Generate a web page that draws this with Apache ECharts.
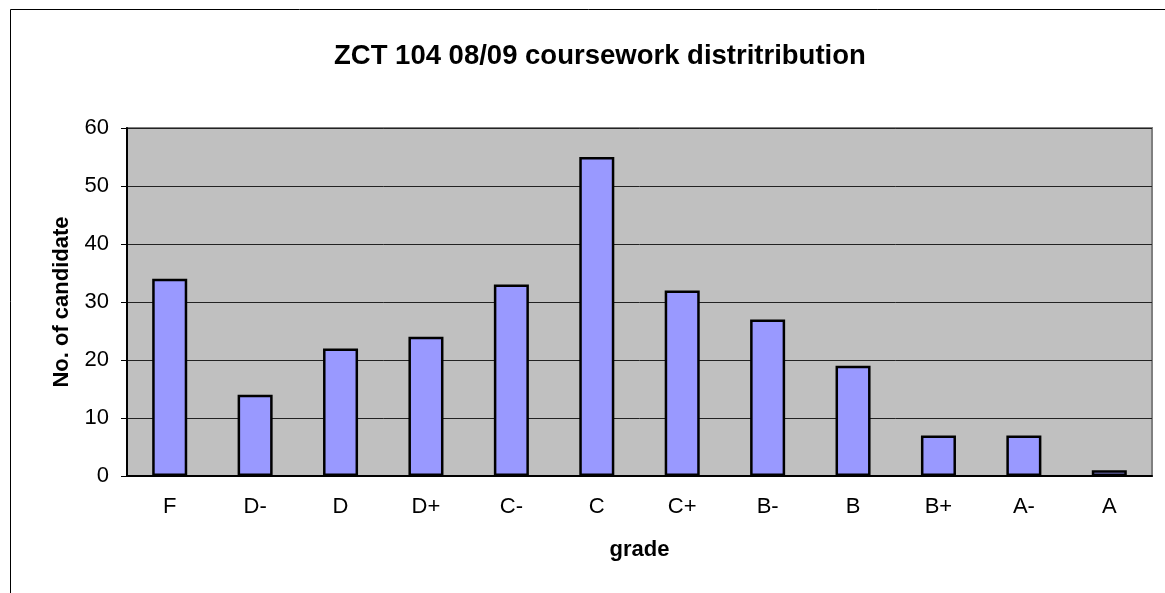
<!DOCTYPE html>
<html>
<head>
<meta charset="utf-8">
<script src="https://cdn.jsdelivr.net/npm/echarts@6/dist/echarts.min.js"></script>
<style>
  html, body { margin: 0; padding: 0; background: #fff; }
  #chart { width: 1165px; height: 593px; }
</style>
</head>
<body>
<div id="chart"></div>
<script>
// coursework grade distribution
var grades = ['F', 'D-', 'D', 'D+', 'C-', 'C', 'C+', 'B-', 'B', 'B+', 'A-', 'A']
var candidates = [34, 14, 22, 24, 33, 55, 32, 27, 19, 7, 7, 1]
var yTicks = { min: 0, max: 60, interval: 10 }

var font = '"Liberation Sans", Arial, sans-serif'
var chart = echarts.init(document.getElementById('chart'))

chart.setOption({
  animation: false,
  textStyle: { fontFamily: font },
  title: {
    text: 'ZCT 104 08/09 coursework distritribution',
    left: 329,
    top: 37,
    textStyle: { fontSize: 27.5, fontWeight: 'bold', color: '#000', fontFamily: font }
  },
  graphic: [{
    type: 'rect',
    shape: { x: 10.5, y: 9.5, width: 1200, height: 700 },
    style: { fill: 'none', stroke: '#000', lineWidth: 1 },
    z: -1
  }],
  grid: {
    left: 127,
    right: 13,
    top: 128,
    bottom: 117,
    show: true,
    backgroundColor: '#C0C0C0',
    borderColor: '#808080',
    borderWidth: 2
  },
  xAxis: {
    type: 'category',
    data: grades,
    name: 'grade',
    nameLocation: 'middle',
    nameGap: 63,
    nameTextStyle: { fontSize: 22, fontWeight: 'bold', color: '#000', fontFamily: font },
    axisLine: { lineStyle: { color: '#000', width: 2 } },
    axisTick: { length: 6, lineStyle: { color: '#000' } },
    axisLabel: { fontSize: 22, color: '#000', margin: 20, fontFamily: font }
  },
  yAxis: {
    type: 'value',
    min: yTicks.min,
    max: yTicks.max,
    interval: yTicks.interval,
    name: 'No. of candidate',
    nameLocation: 'middle',
    nameGap: 54,
    nameTextStyle: { fontSize: 22, fontWeight: 'bold', color: '#000', fontFamily: font },
    axisLine: { show: true, lineStyle: { color: '#000', width: 2 } },
    axisTick: { show: true, length: 6, lineStyle: { color: '#000' } },
    axisLabel: { fontSize: 22, color: '#000', margin: 18, fontFamily: font },
    splitLine: { lineStyle: { color: '#222', width: 1 } }
  },
  series: [{
    name: 'No. of candidate',
    type: 'bar',
    data: candidates,
    barWidth: '41%',
    itemStyle: { color: '#9999FF', borderColor: '#000', borderWidth: 2.5 }
  }]
})
</script>
</body>
</html>
